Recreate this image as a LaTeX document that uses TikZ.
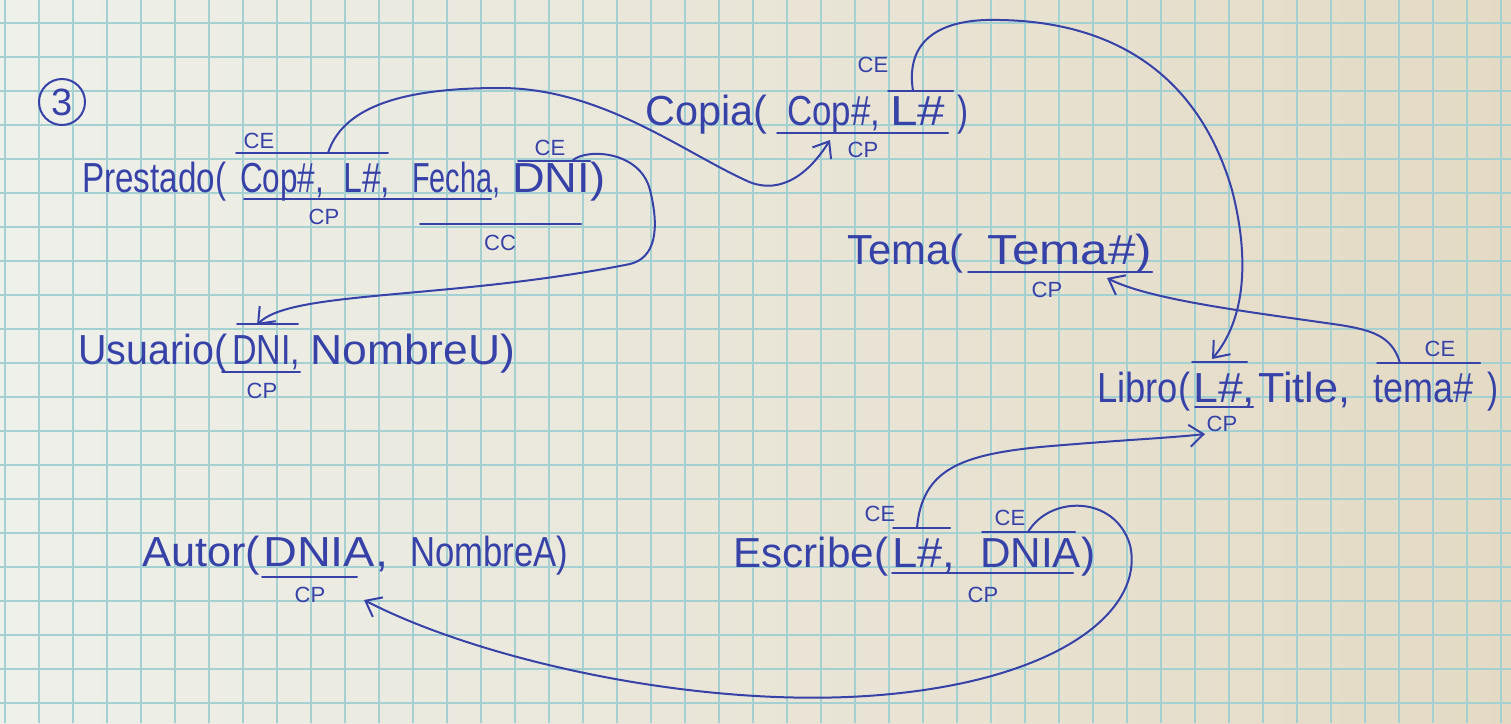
\documentclass[tikz,border=0pt]{standalone}
\usepackage{fontspec}
\usepackage{graphicx}
\setmainfont{Liberation Sans}
\usetikzlibrary{arrows.meta}
\definecolor{ink}{RGB}{55,66,168}
\definecolor{gridc}{RGB}{165,208,210}
\definecolor{paperL}{RGB}{238,240,234}
\definecolor{paperR}{RGB}{228,218,196}
\newcommand{\fitw}[2]{\resizebox{#1pt}{\height}{#2}}
\begin{document}
\begin{tikzpicture}[x=1pt,y=-1pt,
  seg/.style={anchor=base west,inner sep=0pt,text=ink,font=\fontsize{42}{48}\selectfont},
  tag/.style={inner sep=0pt,text=ink,font=\fontsize{22}{25}\selectfont},
  bar/.style={draw=ink,line width=2pt,line cap=round},
  link/.style={draw=ink,line width=2pt,line cap=round,-{Straight Barb[length=14pt,width=22pt,line width=2pt]}},
]
\useasboundingbox (0,0) rectangle (1511,723);
\shade[left color=paperL,right color=paperR] (0,0) rectangle (1511,723);
\foreach \i in {0,...,44} \draw[gridc,line width=1.2pt] ({5+34*\i},0) -- ({5+34*\i},723);
\foreach \j in {0,...,20} \draw[gridc,line width=1.2pt] (0,{23+34*\j}) -- (1511,{23+34*\j});

% circled number
\node[circle,draw=ink,line width=2pt,minimum size=46pt,inner sep=0pt,text=ink,font=\fontsize{38}{42}\selectfont] (num) at (62,102) {3};

% ---- Prestado
\node[seg] (prN) at (82,192) {\fitw{144}{Prestado(}};
\node[seg] (prCop) at (240,192) {\fitw{84}{Cop\#,}};
\node[seg] (prL) at (343,192) {\fitw{47}{L\#,}};
\node[seg] (prF) at (412,192) {\fitw{88}{Fecha,}};
\node[seg] (prD) at (512,192) {\fitw{93}{DNI)}};
\draw[bar] (236,153) -- (388,153);
\node[tag] (prCE1) at (259,141) {CE};
\draw[bar] (244,199) -- (491,199);
\node[tag] (prCP) at (324,217) {CP};
\draw[bar] (518,161) -- (590,161);
\node[tag] (prCE2) at (550,148) {CE};
\draw[bar] (420,224) -- (581,224);
\node[tag] (prCC) at (500,243) {CC};
\coordinate (prA) at (328,153);
\coordinate (prB) at (572,161);

% ---- Copia
\node[seg] (coN) at (645,125) {\fitw{122}{Copia(}};
\node[seg] (coCop) at (787,125) {\fitw{93}{Cop\#,}};
\node[seg] (coL) at (890,125) {\fitw{55}{L\#}};
\node[seg] (coP) at (957,125) {\fitw{11}{)}};
\draw[bar] (777,133) -- (948,133);
\node[tag] (coCP) at (863,150) {CP};
\draw[bar] (888,91) -- (953,91);
\node[tag] (coCE) at (873,65) {CE};
\coordinate (coA) at (913,91);
\coordinate (coT) at (830,140);

% ---- Usuario
\node[seg] (usN) at (78,364) {\fitw{149}{Usuario(}};
\node[seg] (usD) at (232,364) {\fitw{68}{DNI,}};
\node[seg] (usNo) at (310,364) {\fitw{205}{NombreU)}};
\draw[bar] (237,324) -- (298,324);
\draw[bar] (222,372) -- (300,372);
\node[tag] (usCP) at (262,391) {CP};
\coordinate (usT) at (257,325);

% ---- Tema
\node[seg] (teN) at (847,264) {\fitw{116}{Tema(}};
\node[seg] (teT) at (987,264) {\fitw{165}{Tema\#)}};
\draw[bar] (968,272) -- (1152,272);
\node[tag] (teCP) at (1047,290) {CP};
\coordinate (teT2) at (1107,278);

% ---- Libro
\node[seg] (liN) at (1097,402) {\fitw{93}{Libro(}};
\node[seg] (liL) at (1193,402) {\fitw{62}{L\#,}};
\node[seg] (liT) at (1258,402) {\fitw{92}{Title,}};
\node[seg] (liTe) at (1373,402) {\fitw{100}{tema\#}};
\node[seg] (liP) at (1487,402) {\fitw{11}{)}};
\draw[bar] (1192,362) -- (1247,362);
\draw[bar] (1377,363) -- (1480,363);
\node[tag] (liCE) at (1440,349) {CE};
\draw[bar] (1195,407) -- (1253,407);
\node[tag] (liCP) at (1222,424) {CP};
\coordinate (liT1) at (1212,359);
\coordinate (liA) at (1400,363);
\coordinate (liT2) at (1205,434);

% ---- Autor
\node[seg] (auN) at (142,566) {\fitw{118}{Autor(}};
\node[seg] (auD) at (263,566) {\fitw{125}{DNIA,}};
\node[seg] (auNo) at (410,566) {\fitw{158}{NombreA)}};
\draw[bar] (262,577) -- (357,577);
\node[tag] (auCP) at (310,595) {CP};
\coordinate (auT) at (364,600);

% ---- Escribe
\node[seg] (esN) at (733,567) {\fitw{155}{Escribe(}};
\node[seg] (esL) at (892,567) {\fitw{63}{L\#,}};
\node[seg] (esD) at (980,567) {\fitw{115}{DNIA)}};
\draw[bar] (893,528) -- (950,528);
\node[tag] (esCE1) at (880,514) {CE};
\draw[bar] (982,532) -- (1075,532);
\node[tag] (esCE2) at (1010,518) {CE};
\draw[bar] (892,573) -- (1073,573);
\node[tag] (esCP) at (983,595) {CP};
\coordinate (esA) at (917,528);
\coordinate (esB) at (1028,532);

% ---- connectors
\draw[link] (prA) .. controls (345,100) and (420,88) .. (500,88)
  .. controls (600,88) and (680,150) .. (745,180)
  .. controls (775,195) and (805,180) .. (coT);
\draw[link] (prB) .. controls (585,148) and (640,150) .. (650,190)
  .. controls (660,230) and (655,258) .. (630,264)
  .. controls (450,300) and (290,290) .. (usT);
\draw[link] (coA) .. controls (905,40) and (940,18) .. (1000,20)
  .. controls (1120,22) and (1200,80) .. (1232,190)
  .. controls (1250,260) and (1245,320) .. (liT1);
\draw[link] (liA) .. controls (1392,335) and (1370,330) .. (1340,325)
  .. controls (1250,312) and (1150,300) .. (teT2);
\draw[link] (esA) .. controls (922,470) and (960,455) .. (1040,447)
  .. controls (1120,440) and (1170,438) .. (liT2);
\draw[link] (esB) .. controls (1050,495) and (1115,495) .. (1130,545)
  .. controls (1145,610) and (1060,680) .. (880,695)
  .. controls (700,710) and (480,660) .. (auT);
\end{tikzpicture}
\end{document}
